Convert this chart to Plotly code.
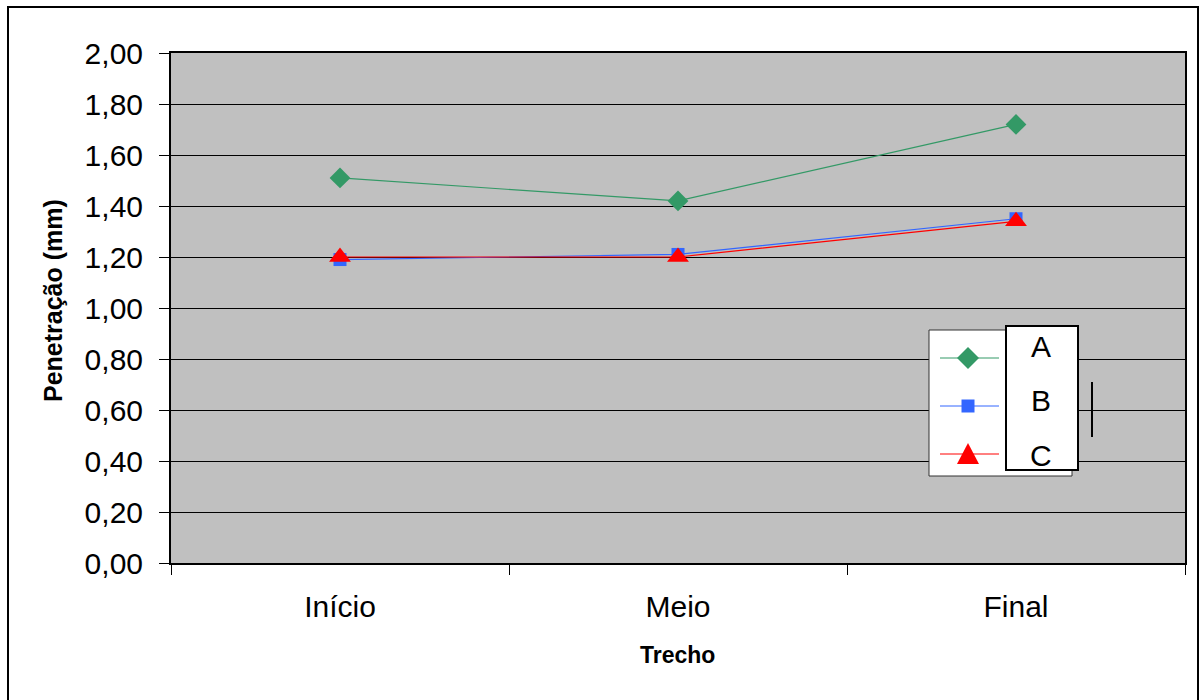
import plotly.graph_objects as go

# Penetração medida por trecho, três séries
trechos = ["Início", "Meio", "Final"]
serie_a = [1.51, 1.42, 1.72]
serie_b = [1.19, 1.21, 1.35]
serie_c = [1.20, 1.20, 1.34]
nomes = ["A", "B", "C"]
y_ticks = [0.0, 0.2, 0.4, 0.6, 0.8, 1.0, 1.2, 1.4, 1.6, 1.8, 2.0]

W, H = 1199, 700
ML, MR, MT, MB = 171, 14, 53, 137
PW, PH = W - ML - MR, H - MT - MB

VERDE, AZUL, VERMELHO = "#339966", "#3366FF", "#FF0000"
FONTE = "Liberation Sans, Arial, sans-serif"


def px(x, y):
    """Converte posição em pixels da página para coordenadas 'paper'."""
    return (x - ML) / PW, (H - MB - y) / PH


fig = go.Figure()
estilos = [
    (serie_a, VERDE, "diamond", 16),
    (serie_b, AZUL, "square", 13),
    (serie_c, VERMELHO, "triangle-up", 19),
]
for nome, (vals, cor, simb, tam) in zip(nomes, estilos):
    fig.add_trace(go.Scatter(
        x=trechos, y=vals, name=nome, mode="lines+markers",
        line=dict(color=cor, width=1.2),
        marker=dict(symbol=simb, size=tam, color=cor, line=dict(width=0)),
        showlegend=False, hoverinfo="skip",
    ))

shapes = []
# moldura externa do gráfico
x0, y0 = px(8, 7)
x1, y1 = px(1198, 720)
shapes.append(dict(type="rect", xref="paper", yref="paper", x0=x0, y0=y1, x1=x1, y1=y0,
                   line=dict(color="black", width=2), fillcolor="rgba(0,0,0,0)", layer="above"))


def caixa(xa, ya, xb, yb, largura, cor_linha):
    a = px(xa, ya)
    b = px(xb, yb)
    return dict(type="rect", xref="paper", yref="paper", x0=a[0], y0=b[1], x1=b[0], y1=a[1],
                line=dict(color=cor_linha, width=largura), fillcolor="white", layer="above")


def segmento(xa, ya, xb, yb, cor, largura):
    a = px(xa, ya)
    b = px(xb, yb)
    return dict(type="line", xref="paper", yref="paper", x0=a[0], y0=a[1], x1=b[0], y1=b[1],
                line=dict(color=cor, width=largura), layer="above")


def poligono(pontos, cor):
    pts = [px(x, y) for x, y in pontos]
    caminho = "M " + " L ".join(f"{p[0]:.5f},{p[1]:.5f}" for p in pts) + " Z"
    return dict(type="path", xref="paper", yref="paper", path=caminho,
                fillcolor=cor, line=dict(width=0), layer="above")


# legenda: caixa das amostras
shapes.append(caixa(929, 330, 1072, 476, 1, "#333333"))
cx = 968
ys_leg = [358, 406, 454]
cores = [VERDE, AZUL, VERMELHO]
for yl, cor in zip(ys_leg, cores):
    shapes.append(segmento(940, yl, 999, yl, cor, 1))
shapes.append(poligono([(cx - 11, 358), (cx, 347), (cx + 11, 358), (cx, 369)], VERDE))
shapes.append(poligono([(cx - 6.5, 399.5), (cx + 6.5, 399.5), (cx + 6.5, 412.5), (cx - 6.5, 412.5)], AZUL))
shapes.append(poligono([(cx - 11, 464), (cx + 11, 464), (cx, 443)], VERMELHO))
# legenda: caixa dos nomes
shapes.append(caixa(1006, 326, 1078, 470, 2, "black"))
shapes.append(segmento(1092, 382, 1092, 437, "black", 2))

annotations = []
for nome, yl in zip(nomes, [346, 400, 455]):
    ax_, ay_ = px(1041, yl)
    annotations.append(dict(text=nome, x=ax_, y=ay_, xref="paper", yref="paper",
                            xanchor="center", yanchor="middle", showarrow=False,
                            font=dict(family=FONTE, size=30, color="black")))

tx, ty = px(53, 301)
annotations.append(dict(text="<b>Penetração (mm)</b>", x=tx, y=ty, xref="paper", yref="paper",
                        textangle=-90, xanchor="center", yanchor="middle", showarrow=False,
                        font=dict(family=FONTE, size=25, color="black")))
tx, ty = px(677, 655)
annotations.append(dict(text="<b>Trecho</b>", x=tx, y=ty, xref="paper", yref="paper",
                        xanchor="center", yanchor="middle", showarrow=False,
                        font=dict(family=FONTE, size=23, color="black")))

fig.update_layout(
    width=W, height=H,
    margin=dict(l=ML, r=MR, t=MT, b=MB, autoexpand=False),
    paper_bgcolor="white", plot_bgcolor="#C0C0C0",
    separators=", ",
    font=dict(family=FONTE, color="black"),
    showlegend=False, hovermode=False,
    shapes=shapes, annotations=annotations,
    xaxis=dict(
        type="category", categoryorder="array", categoryarray=trechos,
        range=[-0.5, 2.5], tickson="boundaries", ticks="outside", ticklen=10,
        tickcolor="black", tickwidth=1, showgrid=False,
        showline=True, mirror=True, linecolor="black", linewidth=2,
        tickfont=dict(family=FONTE, size=30, color="black"),
        ticklabelstandoff=16, automargin=False,
    ),
    yaxis=dict(
        range=[0, 2.0], tickvals=y_ticks, tickformat=".2f",
        ticks="outside", ticklen=10, tickcolor="black", tickwidth=1,
        showgrid=True, gridcolor="black", gridwidth=1,
        showline=True, mirror=True, linecolor="black", linewidth=2,
        zeroline=False,
        tickfont=dict(family=FONTE, size=30, color="black"),
        ticklabelstandoff=10, automargin=False,
    ),
)

fig.write_html("out.html")
